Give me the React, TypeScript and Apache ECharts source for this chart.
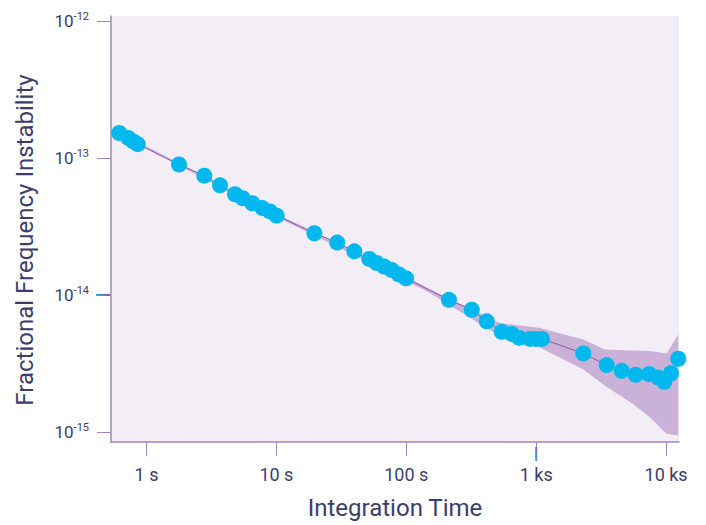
import React, { useEffect, useRef } from "react";
import * as echarts from "echarts";

// Integration time (s) and measured fractional frequency instability
const tau = [
  0.617, 0.724, 0.791, 0.856, 1.779, 2.786, 3.68, 4.8, 5.5, 6.52, 7.79, 8.93, 10.05,
  19.6, 29.4, 39.8, 51.9, 59.2, 67.7, 77.2, 87.8, 99.5,
  213, 319, 416, 543, 648, 741, 896, 996, 1108,
  2305, 3489, 4551, 5833, 7387, 8710, 9687, 10906, 12414,
];
const adev = [
  1.52e-13, 1.4e-13, 1.32e-13, 1.26e-13, 8.95e-14, 7.42e-14, 6.31e-14, 5.43e-14, 5.08e-14, 4.67e-14, 4.3e-14, 4.07e-14, 3.79e-14,
  2.82e-14, 2.41e-14, 2.08e-14, 1.83e-14, 1.71e-14, 1.61e-14, 1.52e-14, 1.41e-14, 1.32e-14,
  9.2e-15, 7.79e-15, 6.41e-15, 5.37e-15, 5.19e-15, 4.85e-15, 4.77e-15, 4.77e-15, 4.77e-15,
  3.74e-15, 3.07e-15, 2.79e-15, 2.61e-15, 2.64e-15, 2.49e-15, 2.32e-15, 2.68e-15, 3.42e-15,
];

// Confidence band
const bandTau = [0.617, 10.1, 99.5, 152, 526, 1070, 2293, 3385, 5564, 7516, 10070, 12414];
const bandUpper = [1.54e-13, 3.9e-14, 1.37e-14, 1.1e-14, 6.24e-15, 5.74e-15, 4.73e-15, 4.0e-15, 3.92e-15, 3.89e-15, 3.74e-15, 5.14e-15];
const bandLower = [1.49e-13, 3.71e-14, 1.27e-14, 1.03e-14, 4.99e-15, 4.11e-15, 2.87e-15, 2.17e-15, 1.6e-15, 1.28e-15, 9.7e-16, 9.4e-16];

// Ticks
const xTicks = [1, 10, 100, 1000, 10000];
const xTickLabels = ["1 s", "10 s", "100 s", "1 ks", "10 ks"];
const yTicks = [1e-15, 1e-14, 1e-13, 1e-12];

const TEXT = "#3b3e6b";
const AXIS = "#a584bf";

export default function App() {
  const ref = useRef<HTMLDivElement>(null);
  useEffect(() => {
    document.body.style.margin = "0";
    if (!ref.current) return;
    const chart = echarts.init(ref.current, undefined, { renderer: "svg" });
    const option: any = {
      animation: false,
      textStyle: { fontFamily: "Roboto" },
      grid: {
        left: 111, right: 27, top: 16, bottom: 79,
        show: true, backgroundColor: "#f3edf6", borderWidth: 0,
      },
      xAxis: {
        type: "log", logBase: 10, min: 0.533, max: 12570,
        axisLine: { show: true, lineStyle: { color: AXIS, width: 1.5 } },
        axisTick: { show: true, customValues: xTicks, length: 14, lineStyle: { color: AXIS, width: 1 } },
        axisLabel: {
          customValues: xTicks,
          color: TEXT, fontSize: 18, margin: 23,
          formatter: (v: number) => {
            const i = xTicks.findIndex((t) => Math.abs(Math.log10(t) - Math.log10(v)) < 0.01);
            return i >= 0 ? xTickLabels[i] : "";
          },
        },
        splitLine: { show: false },
        minorTick: { show: false },
        name: "Integration Time", nameLocation: "middle", nameGap: 54,
        nameTextStyle: { fontSize: 24, color: TEXT },
      },
      yAxis: {
        type: "log", logBase: 10, min: 8.43e-16, max: 1.087e-12,
        axisLine: { show: true, lineStyle: { color: AXIS, width: 1.5 } },
        axisTick: { show: true, customValues: yTicks, length: 14, lineStyle: { color: AXIS, width: 1 } },
        axisLabel: {
          customValues: yTicks,
          margin: 22,
          formatter: (v: number) => `{b|10}{s|${Math.round(Math.log10(v))}}`,
          rich: {
            b: { fontSize: 17, color: TEXT, lineHeight: 20 },
            s: { fontSize: 11, color: TEXT, verticalAlign: "top", lineHeight: 20, padding: [0, 0, 8, 0] },
          },
        },
        splitLine: { show: false },
        minorTick: { show: false },
      },
      graphic: [
        {
          type: "text", x: 25, y: 240, rotation: Math.PI / 2,
          style: { text: "Fractional Frequency Instability", fontSize: 24, fill: TEXT, fontFamily: "Roboto", align: "center", verticalAlign: "middle" },
        },
      ],
      series: [
        {
          type: "custom",
          coordinateSystem: "cartesian2d",
          silent: true,
          z: 1,
          data: bandTau.map((t, i) => [t, bandUpper[i], bandLower[i]]),
          encode: { x: 0, y: [1, 2] },
          renderItem: (params: any, api: any) => {
            if (params.dataIndex !== 0) return null;
            const up = bandTau.map((t, i) => api.coord([t, bandUpper[i]]));
            const lo = bandTau.map((t, i) => api.coord([t, bandLower[i]])).reverse();
            return { type: "polygon", shape: { points: up.concat(lo) }, style: { fill: "#c9b1d8" } };
          },
        },
        {
          type: "line",
          z: 3,
          data: tau.map((t, i) => [t, adev[i]]),
          symbol: "circle",
          symbolSize: 16,
          showAllSymbol: true,
          lineStyle: { color: "#8a5ba7", width: 1 },
          itemStyle: { color: "#00b8ee" },
        },
      ],
    };
    chart.setOption(option);
    const y14 = chart.convertToPixel({ yAxisIndex: 0 }, 1e-14) as number;
    const x1k = chart.convertToPixel({ xAxisIndex: 0 }, 1000) as number;
    chart.setOption({
      graphic: [
        option.graphic[0],
        {
          type: "rect", z: 10, silent: true,
          shape: { x: 96, y: y14 - 1, width: 14, height: 2 },
          style: { fill: new echarts.graphic.LinearGradient(0, 0, 1, 0, [{ offset: 0, color: "#16b4ee" }, { offset: 1, color: "#8a5ba7" }]) },
        },
        {
          type: "rect", z: 10, silent: true,
          shape: { x: x1k - 1, y: 447, width: 2, height: 14 },
          style: { fill: new echarts.graphic.LinearGradient(0, 0, 0, 1, [{ offset: 0, color: "#8a5ba7" }, { offset: 1, color: "#16b4ee" }]) },
        },
      ],
    });
    return () => chart.dispose();
  }, []);
  return <div ref={ref} style={{ width: 706, height: 525 }} />;
}
